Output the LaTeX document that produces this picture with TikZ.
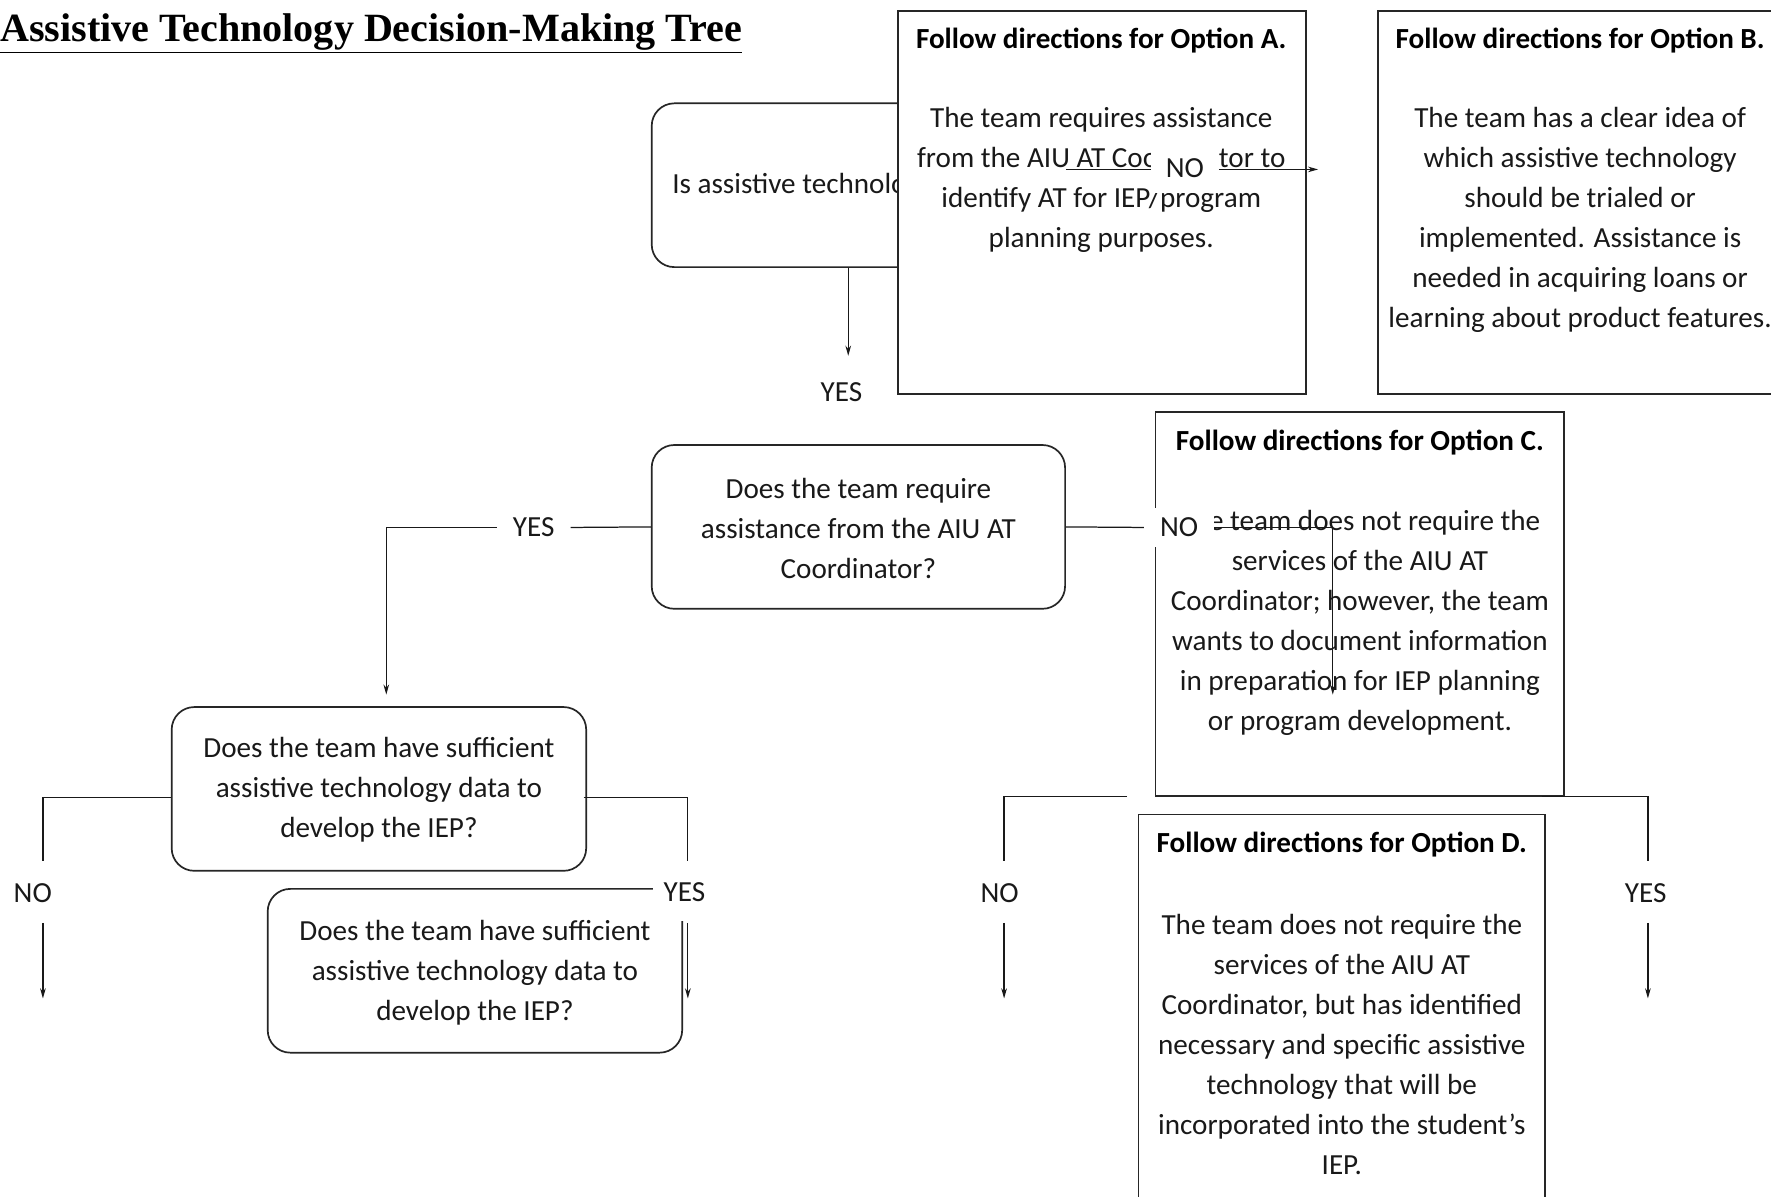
\documentclass[tikz,border=0pt]{standalone}
\usepackage{fontspec}
\setmainfont{Carlito}
\newfontfamily\titlefont{Liberation Serif}
\usetikzlibrary{arrows.meta}
\begin{document}
\begin{tikzpicture}[x=1pt,y=-1pt,
  qbox/.style={draw=black!85, line width=1.5pt, rounded corners=20pt, fill=white, minimum width=366pt, minimum height=145pt, inner sep=0pt},
  optbox/.style={draw=black!85, line width=1.5pt, fill=white, inner sep=0pt},
  body/.style={font=\fontsize{25.8}{35.4}\selectfont, text=black!90, align=center, inner sep=0pt},
  head/.style={font=\fontsize{25.8}{35.4}\selectfont\bfseries, inner sep=0pt},
  lbl/.style={font=\fontsize{25.8}{30}\selectfont, text=black!90, fill=white, inner sep=0pt},
  conn/.style={line width=1.1pt, draw=black!90},
  arr/.style={conn, -{Stealth[length=9pt,width=5pt]}}]
\useasboundingbox (0,0) rectangle (1568,1059);
\clip (0,0) rectangle (1568,1059);
\fill[white] (0,0) rectangle (1568,1059);

% title
\node[anchor=base west, inner sep=0pt] (title) at (0,37) {\resizebox{657pt}{!}{\titlefont\fontsize{34}{40}\selectfont\bfseries\underline{Assistive Technology Decision-Making Tree}}};

% first question
\node[qbox] (q1) at (760,164) {};
\node[body, anchor=west] (q1t) at (595,165) {Is assistive technology};

% option A
\node[optbox, minimum width=361pt, minimum height=339pt] (optA) at (975.5,179.5) {};
\node[head] (optAh) at (975,36) {Follow directions for Option A.};
\node[body] (optAt) at (975,159.5) {The team requires assistance\\from the AIU AT Coordinator to\\identify AT for IEP/program\\planning purposes.};

% option B
\node[optbox, minimum width=358pt, minimum height=339pt] (optB) at (1399,179.5) {};
\node[head] (optBh) at (1399,36) {Follow directions for Option B.};
\node[body] (optBt) at (1399,194.5) {The team has a clear idea of\\which assistive technology\\should be trialed or\\implemented. Assistance is\\needed in acquiring loans or\\learning about product features.};

% NO from q1
\coordinate (noA) at (1167,150);
\node[lbl, minimum width=60pt, minimum height=44pt] (no1) at (1049,149) {NO};
\draw[conn] (q1.east |- noA) -- (no1.west |- noA);
\draw[arr] (no1.east |- noA) -- (noA);

% YES from q1
\coordinate (y1) at (751,315);
\draw[arr] (y1 |- q1.south) -- (y1);
\node[lbl] (yes1) at (745,347) {YES};

% second question
\node[qbox] (q2) at (760,466.5) {};
\node[body] (q2t) at (760,467.5) {Does the team require\\assistance from the AIU AT\\Coordinator?};

% option C
\node[optbox, minimum width=362pt, minimum height=340pt] (optC) at (1204,535) {};
\node[head] (optCh) at (1204,392) {Follow directions for Option C.};
\node[body] (optCt) at (1204,551.5) {The team does not require the\\services of the AIU AT\\Coordinator; however, the team\\wants to document information\\in preparation for IEP planning\\or program development.};

% option D
\node[optbox, minimum width=360pt, minimum height=340pt] (optD) at (1188,891) {};
\node[head] (optDh) at (1188,748) {Follow directions for Option D.};
\node[body] (optDt) at (1188,924.5) {The team does not require the\\services of the AIU AT\\Coordinator, but has identified\\necessary and specific assistive\\technology that will be\\incorporated into the student’s\\IEP.};

% YES branch of q2
\node[lbl, minimum width=65pt, minimum height=30pt] (yes2) at (472.5,467) {YES};
\coordinate (c3) at (342,615);
\draw[conn] (q2.west) -- (yes2.west -| q2.west) (q2.west) -- (yes2.east);
\draw[arr] (yes2.west) -| (c3);

% NO branch of q2
\node[lbl, minimum width=62pt, minimum height=34pt] (no2) at (1044,467) {NO};
\coordinate (cC) at (1180,615);
\draw[conn] (q2.east) -- (no2.west);
\draw[arr] (no2.east) -| (cC);

% third and fourth questions
\node[qbox, minimum width=367pt] (q3) at (335.5,698.5) {};
\node[body] (q3t) at (335.5,699.5) {Does the team have sufficient\\assistive technology data to\\develop the IEP?};
\node[qbox, minimum width=367pt] (q4) at (420.5,859.5) {};
\node[body] (q4t) at (420.5,861) {Does the team have sufficient\\assistive technology data to\\develop the IEP?};

% branches of q3
\coordinate (n3top) at (38,762);
\coordinate (n3bot) at (38,817);
\coordinate (n3end) at (38,884);
\draw[conn] ([yshift=-7.5pt]q3.west) -| (n3top);
\node[lbl] (no3) at (29,791) {NO};
\draw[arr] (n3bot) -- (n3end);

\coordinate (y3top) at (609,762);
\coordinate (y3bot) at (609,817);
\coordinate (y3end) at (609,884);
\draw[conn] ([yshift=-7.5pt,xshift=-3pt]q3.east) -| (y3top);
\node[lbl, minimum width=56pt, minimum height=50pt] (yes3) at (606,790) {YES};
\draw[arr] (y3bot) -- (y3end);

% branches under option C
\coordinate (nLstart) at (998,705);
\coordinate (nLtop) at (889,762);
\coordinate (nLbot) at (889,817);
\coordinate (nLend) at (889,884);
\draw[conn] (nLstart) -| (nLtop);
\node[lbl] (no4) at (885,791) {NO};
\draw[arr] (nLbot) -- (nLend);

\coordinate (yRstart) at (1365,705);
\coordinate (yRtop) at (1459,762);
\coordinate (yRbot) at (1459,817);
\coordinate (yRend) at (1459,884);
\draw[conn] (yRstart) -| (yRtop);
\node[lbl] (yes4) at (1457,791) {YES};
\draw[arr] (yRbot) -- (yRend);
\end{tikzpicture}
\end{document}
